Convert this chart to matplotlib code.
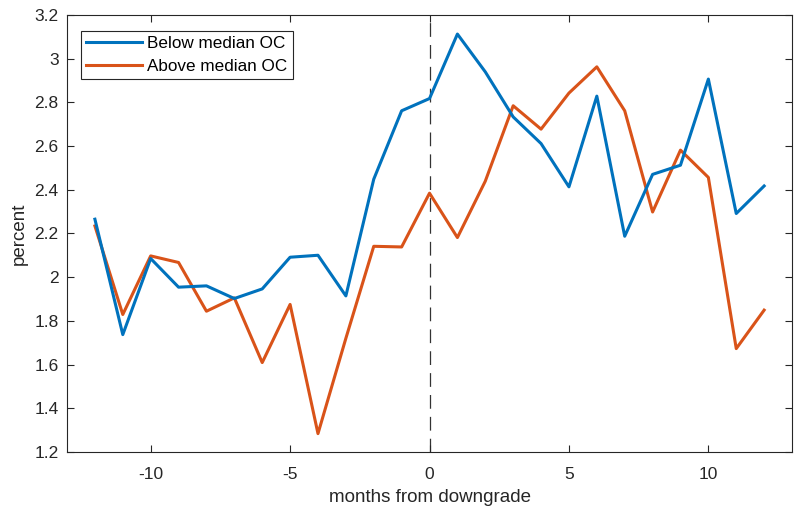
import matplotlib
matplotlib.use('Agg')
import matplotlib.pyplot as plt
from matplotlib.ticker import FuncFormatter

# ---- data ----
months = list(range(-12, 13))
below_oc = [2.265, 1.737, 2.085, 1.954, 1.960, 1.902, 1.946, 2.091, 2.100, 1.914,
            2.448, 2.761, 2.817, 3.112, 2.939, 2.733, 2.611, 2.413, 2.828, 2.187,
            2.470, 2.512, 2.906, 2.291, 2.417]
above_oc = [2.234, 1.829, 2.097, 2.067, 1.844, 1.905, 1.609, 1.875, 1.284, 1.720,
            2.141, 2.138, 2.384, 2.181, 2.439, 2.784, 2.677, 2.842, 2.962, 2.761,
            2.298, 2.581, 2.456, 1.673, 1.849]
series_labels = ["Below median OC", "Above median OC"]
x_ticks = [-10, -5, 0, 5, 10]
y_ticks = [1.2, 1.4, 1.6, 1.8, 2.0, 2.2, 2.4, 2.6, 2.8, 3.0, 3.2]

# ---- style ----
BLUE_C, ORANGE_C, AX_C = '#0072BD', '#D95319', '#262626'
plt.rcParams['font.family'] = ['Liberation Sans', 'DejaVu Sans']
plt.rcParams['axes.unicode_minus'] = False

fig = plt.figure(figsize=(7.96, 5.11), dpi=100)
ax = fig.add_axes([0.0842, 0.1155, 0.9108, 0.8555])

ax.axvline(0, color='#333333', linestyle=(0, (11, 6.5)), linewidth=0.9, zorder=1)
ax.plot(months, below_oc, color=BLUE_C, linewidth=2.2, label=series_labels[0], zorder=3)
ax.plot(months, above_oc, color=ORANGE_C, linewidth=2.2, label=series_labels[1], zorder=2)

ax.set_xlim(-13, 13)
ax.set_ylim(1.2, 3.2)
ax.set_xticks(x_ticks)
ax.set_yticks(y_ticks)
ax.yaxis.set_major_formatter(FuncFormatter(lambda v, p: f"{v:g}"))
ax.tick_params(direction='in', length=5, width=0.8, colors=AX_C, labelsize=12.5,
               top=True, right=True, labelcolor=AX_C)
ax.tick_params(axis='x', pad=11)
ax.tick_params(axis='y', pad=6)
for s in ax.spines.values():
    s.set_color(AX_C); s.set_linewidth(0.8)

ax.set_xlabel("months from downgrade", fontsize=13.5, color=AX_C, labelpad=5)
ax.set_ylabel("percent", fontsize=13.5, color=AX_C, labelpad=5)

leg = ax.legend(loc='upper left', bbox_to_anchor=(0.019, 0.963), fontsize=12.3,
                frameon=True, fancybox=False, edgecolor=AX_C, framealpha=1,
                handlelength=3.25, handletextpad=0.3, borderpad=0.32,
                labelspacing=0.42, borderaxespad=0)
leg.get_frame().set_linewidth(0.8)

fig.savefig("out.png", dpi=100)
